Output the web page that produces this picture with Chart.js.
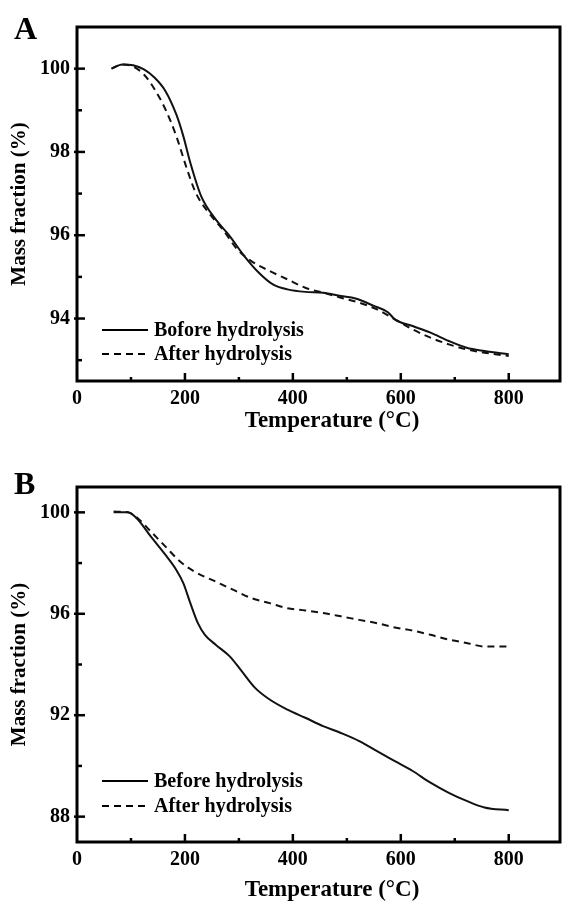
<!DOCTYPE html>
<html>
<head>
<meta charset="utf-8">
<title>TGA before / after hydrolysis</title>
<script src="https://cdn.jsdelivr.net/npm/chart.js@4.4.1/dist/chart.umd.min.js"></script>
<style>
  body { margin: 0; background: #fff; }
  canvas { display: block; }
</style>
</head>
<body>
<canvas id="chartA" width="562" height="440"></canvas>
<canvas id="chartB" width="562" height="463"></canvas>
<script>
// Panel A
const tempBeforeA = [64, 84, 104, 124, 144, 164, 184, 197, 210, 230, 257, 283, 310, 337, 363, 390, 423, 456, 489, 516, 549, 576, 589, 622, 655, 689, 722, 755, 800];
const massBeforeA = [100.0, 100.1, 100.08, 99.98, 99.78, 99.46, 98.9, 98.38, 97.74, 96.94, 96.38, 95.98, 95.5, 95.1, 94.82, 94.7, 94.64, 94.62, 94.54, 94.48, 94.31, 94.15, 93.98, 93.82, 93.66, 93.46, 93.3, 93.22, 93.14];
const tempAfterA = [64, 84, 104, 124, 144, 164, 184, 204, 220, 244, 270, 297, 323, 357, 390, 423, 456, 489, 523, 556, 589, 622, 655, 689, 722, 755, 800];
const massAfterA = [100.0, 100.1, 100.05, 99.86, 99.5, 99.02, 98.38, 97.58, 97.02, 96.54, 96.14, 95.66, 95.38, 95.14, 94.94, 94.74, 94.62, 94.5, 94.38, 94.22, 93.98, 93.74, 93.54, 93.38, 93.26, 93.18, 93.1];

// Panel B
const tempBeforeB = [68, 94, 111, 137, 164, 184, 197, 210, 224, 237, 257, 283, 303, 330, 357, 390, 423, 456, 489, 523, 556, 589, 622, 655, 689, 722, 755, 800];
const massBeforeB = [100.0, 100.0, 99.76, 99.04, 98.32, 97.73, 97.21, 96.42, 95.63, 95.17, 94.78, 94.32, 93.8, 93.08, 92.62, 92.22, 91.9, 91.57, 91.3, 90.98, 90.58, 90.19, 89.8, 89.34, 88.94, 88.62, 88.36, 88.25];
const tempAfterB = [68, 94, 111, 137, 164, 191, 217, 257, 290, 323, 357, 390, 423, 456, 489, 523, 556, 589, 622, 655, 689, 722, 755, 800];
const massAfterB = [100.03, 100.0, 99.8, 99.24, 98.65, 98.06, 97.67, 97.27, 96.94, 96.62, 96.42, 96.22, 96.13, 96.03, 95.9, 95.76, 95.63, 95.46, 95.34, 95.17, 94.98, 94.85, 94.71, 94.71];

const labelsA = ['Bofore hydrolysis', 'After hydrolysis'];
const labelsB = ['Before hydrolysis', 'After hydrolysis'];

// tick positions (labels shown on the major ones only)
const xTicks = [0, 100, 200, 300, 400, 500, 600, 700, 800];
const yTicksA = [93, 94, 95, 96, 97, 98, 99, 100];
const yTicksB = [88, 90, 92, 94, 96, 98, 100];

const SERIF = "'Liberation Serif', 'Times New Roman', serif";

const toPoints = (xs, ys) => xs.map((x, i) => ({ x, y: ys[i] }));
const fixTicks = vals => s => { s.ticks = vals.map(v => ({ value: v })); };

// frame, inward ticks, panel letter, x title and legend inside the plot
const decor = {
    id: 'decor',
    afterDraw(chart, args, o) {
        const { ctx, chartArea: a, scales } = chart;
        ctx.save();
        ctx.strokeStyle = '#000';
        ctx.fillStyle = '#000';

        ctx.lineWidth = 3;
        ctx.strokeRect(a.left, a.top, a.right - a.left, a.bottom - a.top);

        // x ticks
        ctx.lineWidth = 2.5;
        scales.x.ticks.forEach(t => {
            const v = t.value;
            if (v <= scales.x.min || v >= scales.x.max) return;
            const px = scales.x.getPixelForValue(v);
            const len = v % 200 === 0 ? 8 : 4;
            ctx.beginPath();
            ctx.moveTo(px, a.bottom);
            ctx.lineTo(px, a.bottom - len);
            ctx.stroke();
        });

        // y ticks
        scales.y.ticks.forEach(t => {
            const v = t.value;
            if (v <= scales.y.min || v >= scales.y.max) return;
            const py = scales.y.getPixelForValue(v);
            const major = v % o.majorStep === 0;
            ctx.beginPath();
            ctx.moveTo(a.left - (major ? 3 : 0), py);
            ctx.lineTo(a.left + (major ? 8 : 5), py);
            ctx.stroke();
        });

        // panel letter
        ctx.font = `bold 32px ${SERIF}`;
        ctx.textAlign = 'left';
        ctx.textBaseline = 'alphabetic';
        ctx.fillText(o.letter, 14, o.letterY);

        // x title
        ctx.font = `bold 23px ${SERIF}`;
        ctx.textAlign = 'center';
        ctx.textBaseline = 'middle';
        ctx.fillText('Temperature (\u00B0C)', o.xTitleX, o.xTitleY);

        // legend
        ctx.font = `bold 20px ${SERIF}`;
        ctx.textAlign = 'left';
        chart.data.datasets.forEach((ds, i) => {
            const y = o.legendY + i * o.legendGap;
            ctx.lineWidth = ds.borderWidth;
            ctx.setLineDash(ds.borderDash || []);
            ctx.beginPath();
            ctx.moveTo(o.legendX, y);
            ctx.lineTo(o.legendX + 46, y);
            ctx.stroke();
            ctx.setLineDash([]);
            ctx.fillText(ds.label, o.legendX + 52, y + 1);
        });
        ctx.restore();
    }
};

const makeChart = (id, cfg) => {
    const ctx = document.getElementById(id).getContext('2d');
    return new Chart(ctx, {
        type: 'line',
        data: {
            datasets: [{
                label: cfg.labels[0],
                data: cfg.before,
                borderColor: '#111',
                borderWidth: 2,
                pointRadius: 0,
                tension: 0.4,
                cubicInterpolationMode: 'monotone'
            }, {
                label: cfg.labels[1],
                data: cfg.after,
                borderColor: '#111',
                borderWidth: 2,
                borderDash: [7, 5],
                pointRadius: 0,
                tension: 0.4,
                cubicInterpolationMode: 'monotone'
            }]
        },
        options: {
            responsive: false,
            animation: false,
            layout: { padding: { top: cfg.padTop, right: 2, left: 0, bottom: 0 } },
            scales: {
                x: {
                    type: 'linear',
                    min: 0,
                    max: 895,
                    grid: { display: false, drawTicks: false },
                    border: { display: false },
                    afterBuildTicks: fixTicks(xTicks),
                    ticks: {
                        autoSkip: false,
                        maxRotation: 0,
                        padding: 6,
                        color: '#000',
                        font: { family: SERIF, size: 20, weight: 'bold' },
                        callback: v => (v % 200 === 0 ? v : '')
                    },
                    afterFit: s => { s.height = cfg.xHeight; }
                },
                y: {
                    min: cfg.yMin,
                    max: cfg.yMax,
                    grid: { display: false, drawTicks: false },
                    border: { display: false },
                    afterBuildTicks: fixTicks(cfg.yTicks),
                    title: {
                        display: true,
                        text: 'Mass fraction (%)',
                        color: '#000',
                        font: { family: SERIF, size: 21, weight: 'bold' },
                        padding: { top: 7, bottom: 0 }
                    },
                    ticks: {
                        autoSkip: false,
                        padding: 7,
                        color: '#000',
                        font: { family: SERIF, size: 20, weight: 'bold' },
                        callback: v => (v % cfg.majorStep === 0 ? v : '')
                    },
                    afterFit: s => { s.width = 77; }
                }
            },
            plugins: {
                legend: { display: false },
                tooltip: { enabled: false },
                decor: {
                    letter: cfg.letter,
                    letterY: cfg.letterY,
                    xTitleX: 332,
                    xTitleY: cfg.xTitleY,
                    legendX: 102,
                    legendY: cfg.legendY,
                    legendGap: cfg.legendGap,
                    majorStep: cfg.majorStep
                }
            }
        },
        plugins: [decor]
    });
};

makeChart('chartA', {
    labels: labelsA,
    before: toPoints(tempBeforeA, massBeforeA),
    after: toPoints(tempAfterA, massAfterA),
    yMin: 92.5, yMax: 101, yTicks: yTicksA, majorStep: 2,
    padTop: 27, xHeight: 59,
    letter: 'A', letterY: 39, xTitleY: 421,
    legendY: 330, legendGap: 24
});

makeChart('chartB', {
    labels: labelsB,
    before: toPoints(tempBeforeB, massBeforeB),
    after: toPoints(tempAfterB, massAfterB),
    yMin: 87, yMax: 101, yTicks: yTicksB, majorStep: 4,
    padTop: 47, xHeight: 61,
    letter: 'B', letterY: 54, xTitleY: 450,
    legendY: 341, legendGap: 25
});
</script>
</body>
</html>
